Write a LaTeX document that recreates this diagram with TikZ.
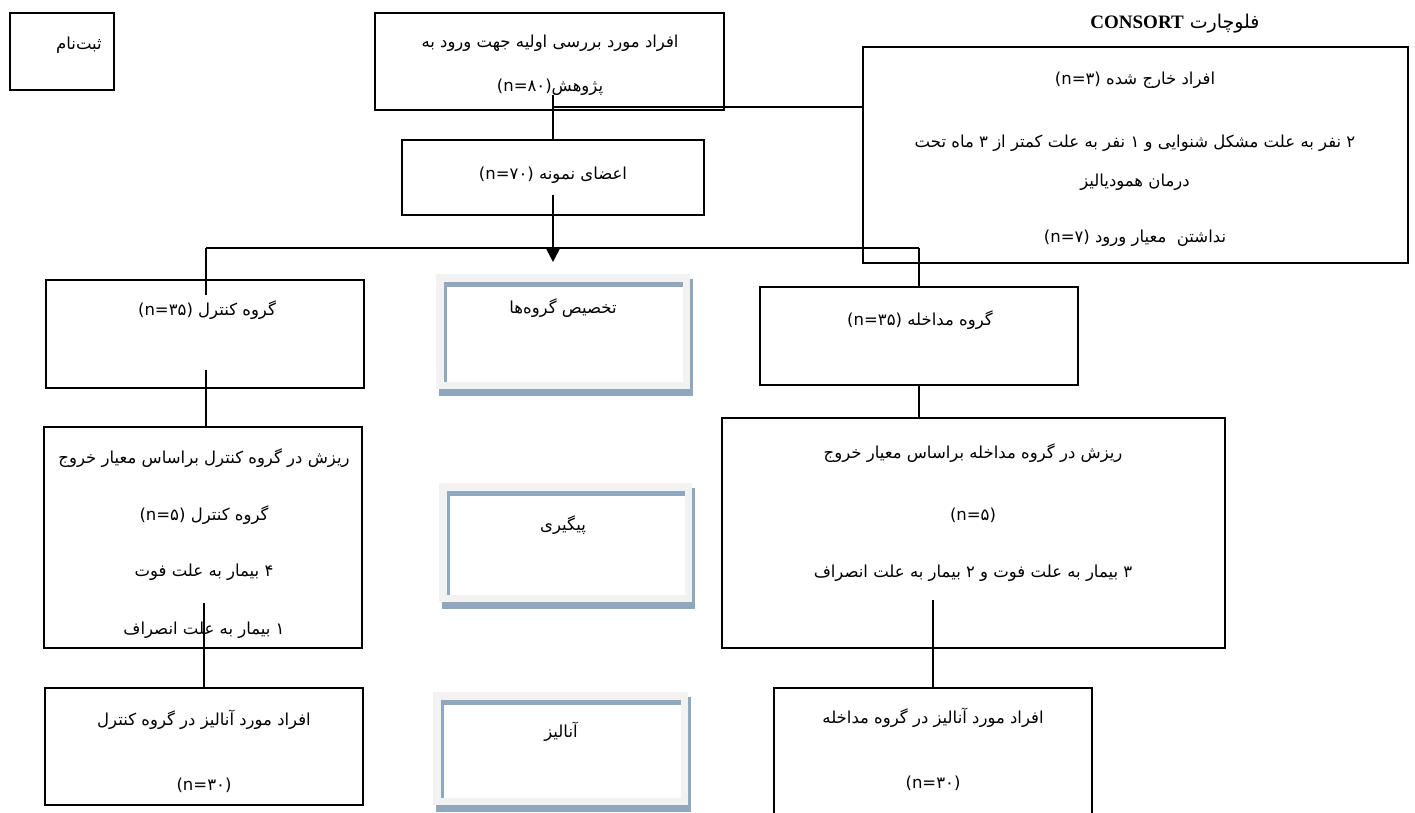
\documentclass[tikz,border=0pt]{standalone}
\usepackage{fontspec}
\setmainfont{DejaVu Sans}
\newfontfamily\fa[Script=Arabic]{DejaVu Sans}
\newfontfamily\tnr{Liberation Serif}
\TeXXeTstate=1
\usetikzlibrary{arrows.meta}
\definecolor{shblue}{HTML}{8FA8BF}
\definecolor{ltgray}{HTML}{F2F2F2}
\newcommand\rtlt[1]{\beginR #1\endR}
\tikzset{
  box/.style={draw=black, line width=1.2pt, anchor=north west, inner sep=0pt, outer sep=0pt},
  conn/.style={draw=black, line width=1.6pt},
  txt/.style={font=\fa\fontsize{16.5}{19}\selectfont, inner sep=0pt, anchor=center},
  ttl/.style={font=\fontsize{19}{22}\selectfont, inner sep=0pt},
  panelbg/.style={fill=ltgray},
  panelsh/.style={fill=shblue},
  panelin/.style={fill=white},
  arr/.style={-{Triangle[width=13pt,length=13pt]}}
}
\newcommand\panel[5]{%
  \fill[panelsh] (#2+3,#3+5) rectangle (#4+3,#5+7);
  \fill[panelbg] (#2,#3) rectangle (#4,#5);
  \fill[panelsh] (#2+8,#3+8) rectangle (#4-7,#5-7);
  \fill[panelin] (#2+11,#3+13) rectangle (#4-7,#5-7);
  \node[anchor=north west, inner sep=0pt, outer sep=0pt, minimum width=#4-#2, minimum height=#5-#3] (#1) at (#2,#3) {};
}
\begin{document}
\begin{tikzpicture}[x=1pt,y=-1pt]
\useasboundingbox (0,0) rectangle (1415,812);
\clip (0,0) rectangle (1415,812);
\fill[white] (0,0) rectangle (1415,812);

% boxes
\node[box, minimum width=104, minimum height=77] (reg) at (10,13) {};
\node[box, minimum width=349, minimum height=97] (screen) at (375,13) {};
\node[box, minimum width=545, minimum height=216] (excl) at (863,47) {};
\node[box, minimum width=302, minimum height=75] (sample) at (402,140) {};
\node[box, minimum width=318, minimum height=108] (ctrl) at (46,280) {};
\node[box, minimum width=318, minimum height=98] (intv) at (760,287) {};
\node[box, minimum width=318, minimum height=221] (ctrldrop) at (44,427) {};
\node[box, minimum width=503, minimum height=230] (intvdrop) at (722,418) {};
\node[box, minimum width=318, minimum height=117] (ctrlan) at (45,688) {};
\node[box, minimum width=318, minimum height=140] (intvan) at (774,688) {};

% shaded panels
\panel{alloc}{436}{274}{690}{389}
\panel{follow}{439}{483}{692}{602}
\panel{anal}{433}{692}{688}{805}

% texts
\node[txt, anchor=east] (tReg) at (102,45) {\rtlt{ثبت^^^^200cنام}};
\node[ttl] (title) at (1175,24) {{\tnr\bfseries CONSORT} {\fa\rtlt{فلوچارت}}};
\node[txt] (tS1) at (550,43) {\rtlt{افراد مورد بررسی اولیه جهت ورود به}};
\node[txt] (tS2) at (550,87) {(n=۸۰)\rtlt{پژوهش}};
\node[txt] (tE1) at (1135,80) {(n=۳) \rtlt{افراد خارج شده}};
\node[txt] (tE2) at (1135,143) {\rtlt{۲ نفر به علت مشکل شنوایی و ۱ نفر به علت کمتر از ۳ ماه تحت}};
\node[txt] (tE3) at (1135,182) {\rtlt{درمان همودیالیز}};
\node[txt] (tE4) at (1135,238) {(n=۷) \rtlt{نداشتن \ معیار ورود}};
\node[txt] (tSa) at (553,175) {(n=۷۰) \rtlt{اعضای نمونه}};
\node[txt] (tC) at (207,310) {(n=۳۵) \rtlt{گروه کنترل}};
\node[txt] (tAl) at (563,308) {\rtlt{تخصیص گروه^^^^200cها}};
\node[txt] (tI) at (920,320) {(n=۳۵) \rtlt{گروه مداخله}};
\node[txt] (tCd1) at (204,458) {\rtlt{ریزش در گروه کنترل براساس معیار خروج}};
\node[txt] (tCd2) at (204,515) {(n=۵) \rtlt{گروه کنترل}};
\node[txt] (tCd3) at (204,572) {\rtlt{۴ بیمار به علت فوت}};
\node[txt] (tCd4) at (204,630) {\rtlt{۱ بیمار به علت انصراف}};
\node[txt] (tF) at (563,525) {\rtlt{پیگیری}};
\node[txt] (tId1) at (973,453) {\rtlt{ریزش در گروه مداخله براساس معیار خروج}};
\node[txt] (tId2) at (973,515) {(n=۵)};
\node[txt] (tId3) at (973,573) {\rtlt{۳ بیمار به علت فوت و ۲ بیمار به علت انصراف}};
\node[txt] (tCa1) at (204,720) {\rtlt{افراد مورد آنالیز در گروه کنترل}};
\node[txt] (tCa2) at (204,785) {(n=۳۰)};
\node[txt] (tA) at (561,732) {\rtlt{آنالیز}};
\node[txt] (tIa1) at (933,718) {\rtlt{افراد مورد آنالیز در گروه مداخله}};
\node[txt] (tIa2) at (933,783) {(n=۳۰)};

% connectors
\coordinate (c1) at (553,95);
\coordinate (c2) at (553,107);
\coordinate (c3) at (553,195);
\coordinate (tip) at (553,262);
\coordinate (hl) at (206,248);
\coordinate (hr) at (919,248);
\coordinate (c4) at (206,295);
\coordinate (c5) at (206,370);
\coordinate (c6) at (204,603);
\coordinate (c7) at (933,600);
\draw[conn] (c1) -- (sample.north);
\draw[conn] (c2) -- (c2 -| excl.west);
\draw[conn, arr] (c3) -- (tip);
\draw[conn] (hl) -- (hr);
\draw[conn] (hl) -- (c4);
\draw[conn] (hr) -- (intv.north);
\draw[conn] (c5) -- (c5 |- ctrldrop.north);
\draw[conn] (intv.south) -- (intv.south |- intvdrop.north);
\draw[conn] (c6) -- (c6 |- ctrlan.north);
\draw[conn] (c7) -- (c7 |- intvan.north);
\end{tikzpicture}
\end{document}
